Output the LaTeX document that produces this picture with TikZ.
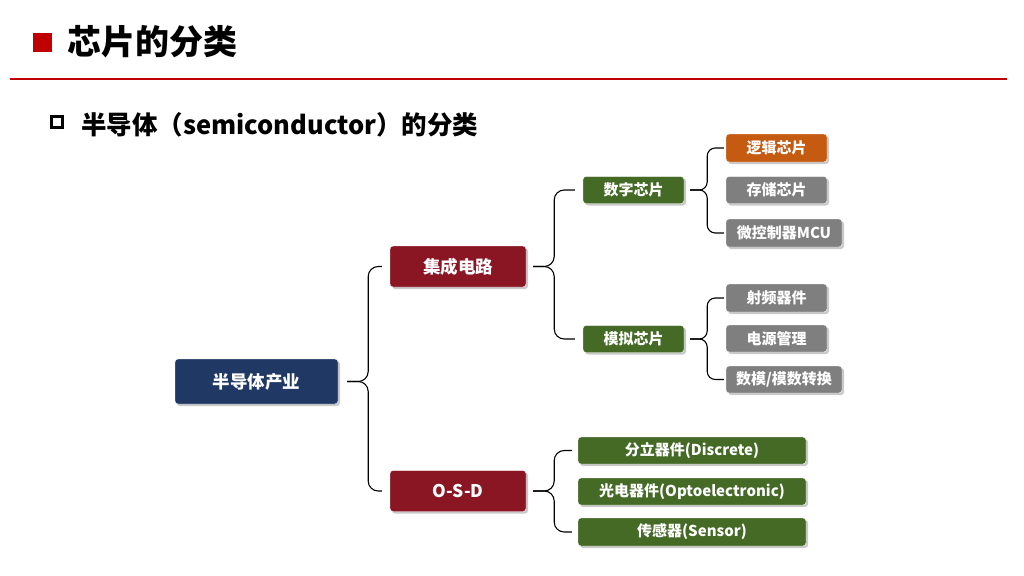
\documentclass[tikz,border=0pt]{standalone}
\usepackage{fontspec}
\setmainfont{Noto Sans CJK SC}
\usepackage{tikz}
\usetikzlibrary{calc}
\usetikzlibrary{shadows}

\definecolor{titlered}{HTML}{C00000}
\definecolor{navy}{HTML}{203864}
\definecolor{wine}{HTML}{8A1624}
\definecolor{leaf}{HTML}{446A26}
\definecolor{rust}{HTML}{C55A11}
\definecolor{slate}{HTML}{7F7F7F}

\begin{document}
\begin{tikzpicture}[x=1pt,y=-1pt,
    box/.style={rounded corners=3pt, draw=white, line width=0.4pt, text=white, inner sep=0pt,
        font=\bfseries\fontsize{15}{15}\selectfont,
        drop shadow={shadow xshift=2pt, shadow yshift=-2pt, opacity=0.35, fill=black!60}},
    bigbox/.style={box, font=\bfseries\fontsize{17.5}{17.5}\selectfont},
    brace/.style={draw=black, line width=1.1pt, rounded corners=10pt},
    smallbrace/.style={brace, rounded corners=8pt}]
            \useasboundingbox (0,0) rectangle (1024,575);

            % title
            \fill[titlered] (33,33) rectangle (52,52);
            \node[anchor=base west, inner sep=0pt, font=\bfseries\fontsize{34}{34}\selectfont] (title) at (67,55) {芯片的分类};
            \draw[titlered, line width=1.5pt] (10,79) -- (1007,79);

            % subtitle
            \draw[line width=2.6pt] (51.5,116.5) rectangle (62.5,127.5);
            \node[anchor=base west, inner sep=0pt, font=\bfseries\fontsize{25.5}{25.5}\selectfont] (subtitle) at (81,134) {半导体（semiconductor）的分类};

            % level 1 and 2
            \node[bigbox, fill=navy, minimum width=163, minimum height=45] (semi) at (256.5,381.5) {半导体产业};
            \node[bigbox, fill=wine, minimum width=136, minimum height=41] (ic) at (458,266.5) {集成电路};
            \node[bigbox, fill=wine, minimum width=136, minimum height=41] (osd) at (458,491) {O-S-D};

            % integrated circuits
            \node[box, fill=leaf, minimum width=101, minimum height=27] (digital) at (633.5,190) {数字芯片};
            \node[box, fill=leaf, minimum width=101, minimum height=27] (analog) at (633.5,339) {模拟芯片};

            \node[box, fill=rust, minimum width=101, minimum height=28] (logic) at (776.5,148) {逻辑芯片};
            \node[box, fill=slate, minimum width=101, minimum height=27] (memory) at (776.5,190) {存储芯片};
            \node[box, fill=slate, minimum width=116, minimum height=28] (mcu) at (784,233) {微控制器MCU};

            \node[box, fill=slate, minimum width=101, minimum height=28] (rf) at (776.5,298) {射频器件};
            \node[box, fill=slate, minimum width=101, minimum height=27] (power) at (776.5,338.5) {电源管理};
            \node[box, fill=slate, minimum width=116, minimum height=27] (adc) at (784,379.5) {数模/模数转换};

            % o-s-d
            \node[box, fill=leaf, minimum width=228, minimum height=27] (discrete) at (692,450.5) {分立器件(Discrete)};
            \node[box, fill=leaf, minimum width=228, minimum height=27] (opto) at (692,491.5) {光电器件(Optoelectronic)};
            \node[box, fill=leaf, minimum width=228, minimum height=28] (sensor) at (692,532) {传感器(Sensor)};

            % braces
            \draw[brace] ($(semi.east)+(9,0)$) -- ++(21,0) |- ($(ic.west)+(-8,0)$);
            \draw[brace] ($(semi.east)+(9,0)$) -- ++(21,0) |- ($(osd.west)+(-8,0)$);

            \draw[brace] ($(ic.east)+(7,0)$) -- ++(21,0) |- ($(digital.west)+(-8,0)$);
            \draw[brace] ($(ic.east)+(7,0)$) -- ++(21,0) |- ($(analog.west)+(-8,0)$);

            \draw[smallbrace] ($(digital.east)+(6,0)$) -- ++(17,0) |- ($(logic.west)+(-2,0)$);
            \draw[smallbrace] ($(digital.east)+(6,0)$) -- ++(17,0) |- ($(mcu.west)+(-2,0)$);

            \draw[smallbrace] ($(analog.east)+(6,0)$) -- ++(17,0) |- ($(rf.west)+(-2,0)$);
            \draw[smallbrace] ($(analog.east)+(6,0)$) -- ++(17,0) |- ($(adc.west)+(-2,0)$);

            \draw[brace] ($(osd.east)+(7,0)$) -- ++(21,0) |- ($(discrete.west)+(-6,0)$);
            \draw[brace] ($(osd.east)+(7,0)$) -- ++(21,0) |- ($(sensor.west)+(-6,0)$);
        \end{tikzpicture}
\end{document}
